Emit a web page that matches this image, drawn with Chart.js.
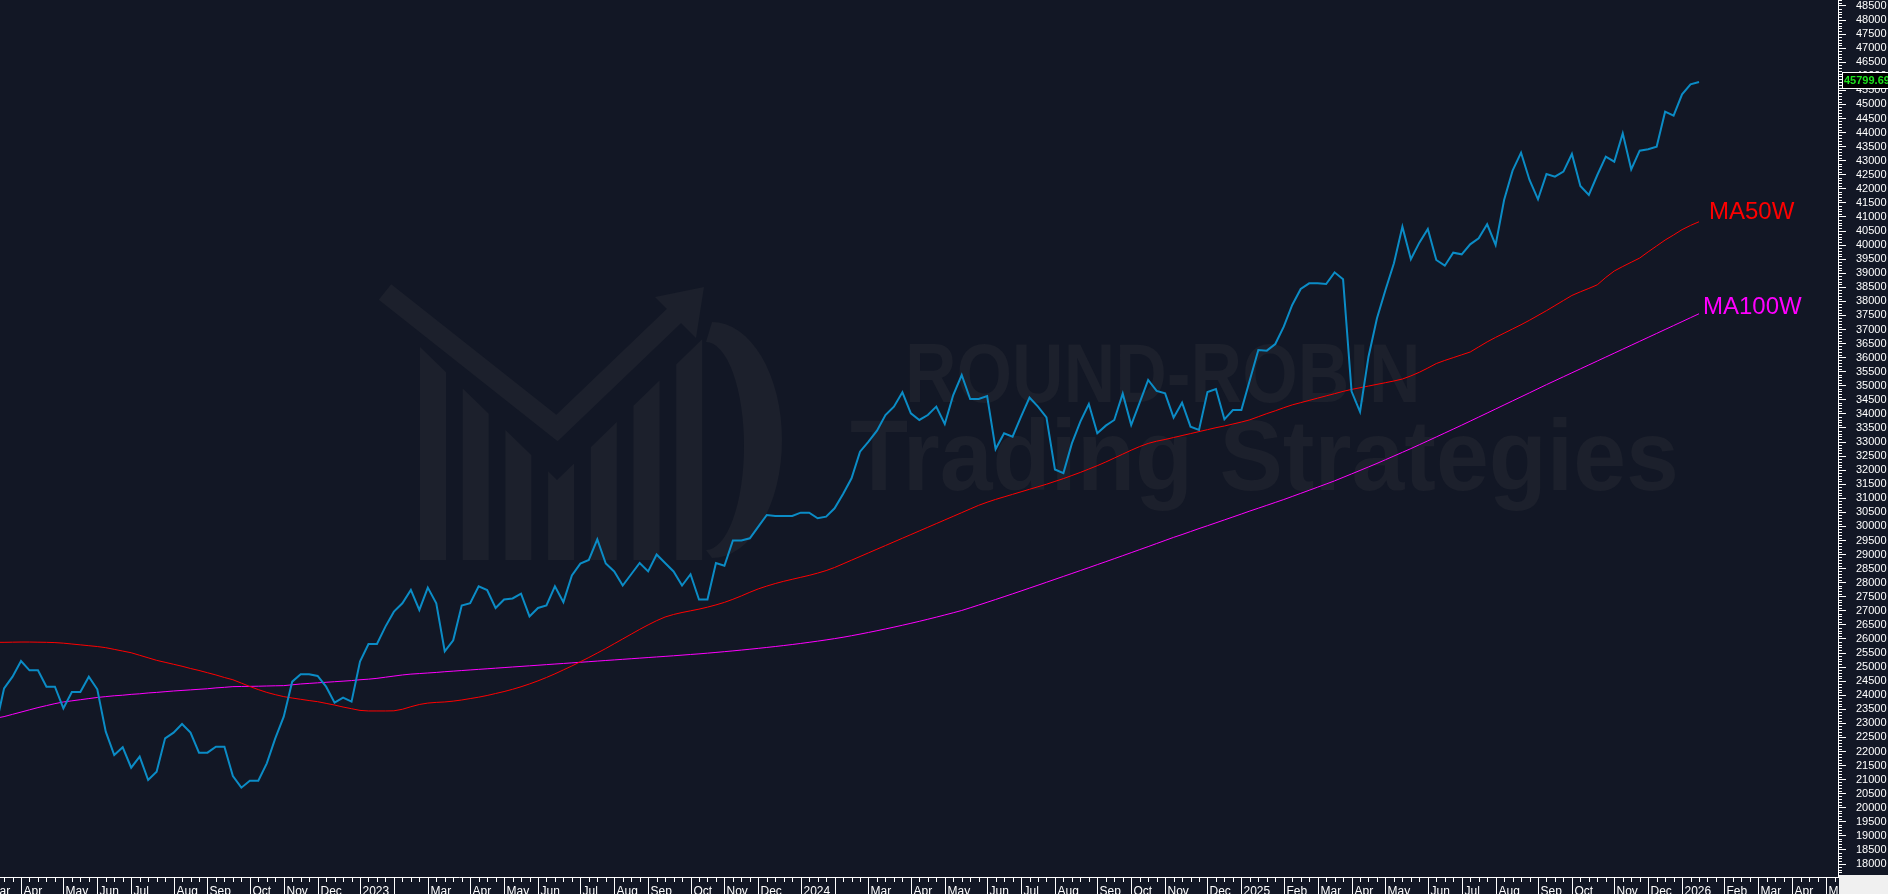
<!DOCTYPE html>
<html>
<head>
<meta charset="utf-8">
<script src="https://cdn.jsdelivr.net/npm/chart.js@4.4.1/dist/chart.umd.min.js"></script>
<style>
  html, body { margin: 0; padding: 0; background: #121725; }
  #wrap { width: 1888px; height: 894px; }
</style>
</head>
<body>
<div id="wrap"><canvas id="chart" width="1888" height="894"></canvas></div>
<script>
// --- DATA ---
// weekly closes, one value per Friday, first week = 2022-03-11
const START_DATE = Date.UTC(2022, 2, 11);
const MONTH_NAMES = ['Jan', 'Feb', 'Mar', 'Apr', 'May', 'Jun', 'Jul', 'Aug', 'Sep', 'Oct', 'Nov', 'Dec'];

const priceClose = [
    22860, 24245, 24660, 25217, 24885, 24885, 24305, 24305, 23535, 24115,
    24115, 24660, 24210, 22705, 21875, 22148, 21425, 21816, 20986, 21283,
    22468, 22669, 22977, 22669, 21958, 21958, 22171, 22171, 21129, 20714,
    20963, 20963, 21579, 22468, 23238, 24482, 24743, 24743, 24683, 24304,
    23735, 23913, 23771, 25193, 25821, 25821, 26438, 26971, 27267, 27741,
    27030, 27824, 27267, 25560, 25950, 27190, 27270, 27870, 27740, 27100,
    27400, 27440, 27610, 26800, 27100, 27190, 27870, 27310, 28260, 28680,
    28810, 29540, 28680, 28400, 27900, 28300, 28700, 28400, 29000, 28700,
    28400, 27900, 28300, 27400, 27400, 28700, 28600, 29500, 29500, 29578,
    29992, 30407, 30371, 30371, 30371, 30490, 30490, 30289, 30348, 30644,
    31153, 31710, 32658, 33014, 33404, 33961, 34258, 34767, 34021, 33784,
    33961, 34258, 33642, 34672, 35383, 34530, 34530, 34637, 32750, 33310,
    33191, 33902, 34578, 34258, 33879, 32022, 31894, 32950, 33725, 34353,
    33310, 33582, 33784, 34720, 33606, 34400, 35206, 34815, 34732, 33867,
    34400, 33547, 33428, 34779, 34886, 33808, 34139, 34139, 35206, 36272,
    36248, 36485, 37101, 37872, 38440, 38641, 38641, 38617, 39032, 38783,
    34804, 34076, 36034, 37397, 38404, 39352, 40656, 39495, 40087, 40573,
    39471, 39269, 39731, 39672, 40028, 40241, 40739, 40004, 41603, 42646,
    43286, 42314, 41627, 42528, 42433, 42611, 43239, 42101, 41781, 42492,
    43144, 42966, 43973, 42694, 43357, 43405, 43499, 44743, 44601, 45360,
    45715, 45799.69
];

const ma50w = [
    25880, 25880, 25885, 25890, 25890, 25885, 25880, 25870, 25850, 25820,
    25790, 25760, 25730, 25690, 25630, 25570, 25510, 25420, 25330, 25240,
    25170, 25100, 25030, 24950, 24880, 24800, 24720, 24630, 24550, 24430,
    24310, 24200, 24100, 24020, 23950, 23900, 23855, 23810, 23770, 23710,
    23650, 23580, 23520, 23460, 23440, 23440, 23440, 23445, 23500, 23590,
    23670, 23720, 23745, 23760, 23790, 23830, 23880, 23930, 23990, 24060,
    24130, 24210, 24300, 24400, 24510, 24630, 24760, 24900, 25040, 25190,
    25340, 25500, 25660, 25830, 26000, 26170, 26340, 26500, 26650, 26780,
    26870, 26940, 27000, 27060, 27130, 27210, 27300, 27410, 27530, 27660,
    27780, 27880, 27970, 28050, 28120, 28190, 28260, 28340, 28430, 28540,
    28670, 28800, 28930, 29060, 29190, 29320, 29450, 29580, 29710, 29840,
    29970, 30100, 30230, 30360, 30490, 30620, 30750, 30860, 30960, 31050,
    31140, 31230, 31320, 31410, 31500, 31600, 31700, 31810, 31920, 32040,
    32160, 32290, 32430, 32570, 32710, 32840, 32950, 33030, 33090, 33160,
    33230, 33300, 33370, 33440, 33510, 33570, 33640, 33710, 33790, 33900,
    34010, 34110, 34220, 34320, 34400, 34480, 34560, 34640, 34720, 34800,
    34870, 34930, 34990, 35050, 35110, 35170, 35240, 35350, 35480, 35630,
    35790, 35900, 36000, 36100, 36200, 36380, 36560, 36720, 36870, 37020,
    37170, 37330, 37500, 37670, 37850, 38030, 38210, 38340, 38460, 38590,
    38850, 39080, 39240, 39390, 39540, 39760, 39970, 40180, 40360, 40550,
    40700, 40830
];

const ma100w = [
    23180, 23240, 23320, 23400, 23480, 23560, 23630, 23700, 23760, 23800,
    23840, 23880, 23920, 23950, 23980, 24000, 24030, 24050, 24080, 24100,
    24125, 24150, 24170, 24190, 24210, 24230, 24260, 24280, 24305, 24310,
    24315, 24320, 24328, 24335, 24340, 24370, 24400, 24420, 24440, 24460,
    24480, 24500, 24520, 24550, 24570, 24600, 24640, 24680, 24720, 24750,
    24770, 24790, 24810, 24835, 24856, 24877, 24898, 24919, 24940, 24961,
    24982, 25003, 25024, 25045, 25066, 25087, 25108, 25129, 25150, 25171,
    25192, 25213, 25234, 25255, 25276, 25297, 25318, 25339, 25360, 25381,
    25402, 25425, 25448, 25470, 25495, 25521, 25548, 25576, 25605, 25635,
    25666, 25698, 25731, 25766, 25802, 25840, 25880, 25922, 25966, 26012,
    26060, 26115, 26172, 26231, 26292, 26355, 26420, 26487, 26556, 26627,
    26700, 26775, 26852, 26931, 27012, 27108, 27205, 27303, 27402, 27502,
    27603, 27705, 27808, 27911, 28015, 28119, 28223, 28327, 28431, 28536,
    28641, 28747, 28853, 28960, 29067, 29175, 29283, 29392, 29501, 29611,
    29711, 29817, 29923, 30025, 30128, 30232, 30336, 30441, 30547, 30648,
    30750, 30853, 30956, 31065, 31175, 31285, 31396, 31508, 31620, 31743,
    31866, 31990, 32115, 32240, 32371, 32502, 32634, 32766, 32904, 33042,
    33181, 33320, 33460, 33600, 33743, 33886, 34030, 34174, 34319, 34462,
    34606, 34750, 34895, 35040, 35180, 35320, 35460, 35600, 35740, 35880,
    36020, 36160, 36300, 36440, 36580, 36720, 36860, 37000, 37140, 37280,
    37420, 37560
];

const SERIES_LABELS = ['MA50W', 'MA100W'];
const WATERMARK_LINES = ['ROUND-ROBIN', 'Trading Strategies'];

// visible window (week index) and price range
const X_MIN = 0.52, X_MAX = 217.4;
const Y_MIN = 17538, Y_MAX = 48713;
const Y_TICK_FIRST = 18000, Y_TICK_LAST = 48500, Y_STEP = 500, Y_MINOR = 100;

// --- COLOURS ---
const BG = '#121725';
const WM = '#1c202c';
const AXIS = '#ffffff';
const FONT = "'Liberation Sans', Arial, sans-serif";

function weekDate(j) {
    return new Date(START_DATE + j * 7 * 86400000);
}

function toPoints(arr) {
    return arr.map((v, j) => ({ x: j, y: v }));
}

// --- PLUGINS ---
const backgroundPlugin = {
    id: 'background',
    beforeDraw(chart) {
        const { ctx, width, height } = chart;
        ctx.save();
        ctx.fillStyle = BG;
        ctx.fillRect(0, 0, width, height);
        ctx.restore();
    }
};

const watermarkPlugin = {
    id: 'watermark',
    beforeDatasetsDraw(chart) {
        const { ctx } = chart;
        ctx.save();
        ctx.fillStyle = WM;
        ctx.strokeStyle = WM;

        // logo bars, tops cut along the V
        const vx = 557, vy = 480, slope = 0.97;
        for (let k = 0; k < 7; k++) {
            const bx = 420 + k * 42.7, w = 26;
            ctx.beginPath();
            const t1 = vy - Math.abs(bx - vx) * slope;
            const t2 = vy - Math.abs(bx + w - vx) * slope;
            ctx.moveTo(bx, 560);
            ctx.lineTo(bx, t1);
            if (bx < vx && bx + w > vx) ctx.lineTo(vx, vy);
            ctx.lineTo(bx + w, t2);
            ctx.lineTo(bx + w, 560);
            ctx.closePath();
            ctx.fill();
        }
        // V band with arrow
        ctx.lineWidth = 20;
        ctx.lineJoin = 'miter';
        ctx.beginPath();
        ctx.moveTo(385, 292);
        ctx.lineTo(557, 428);
        ctx.lineTo(676, 314);
        ctx.stroke();
        ctx.beginPath();
        ctx.moveTo(704, 287);
        ctx.lineTo(655, 297);
        ctx.lineTo(696, 338);
        ctx.closePath();
        ctx.fill();
        // crescent
        ctx.beginPath();
        ctx.ellipse(712, 440, 70, 118, 0, -Math.PI / 2, Math.PI / 2);
        ctx.ellipse(706, 446, 38, 104, 0, Math.PI / 2, -Math.PI / 2, true);
        ctx.fill();

        ctx.textBaseline = 'alphabetic';
        ctx.font = `bold 84px ${FONT}`;
        ctx.save();
        ctx.translate(905, 402);
        ctx.scale(0.85, 1);
        ctx.fillText(WATERMARK_LINES[0], 0, 0);
        ctx.restore();
        ctx.font = `bold 100px ${FONT}`;
        ctx.save();
        ctx.translate(850, 490);
        ctx.scale(0.95, 1);
        ctx.fillText(WATERMARK_LINES[1], 0, 0);
        ctx.restore();
        ctx.restore();
    }
};

const axesPlugin = {
    id: 'axesDecor',
    afterDraw(chart) {
        const { ctx, chartArea, scales: { x, y }, width, height } = chart;
        ctx.save();
        ctx.strokeStyle = AXIS;
        ctx.lineWidth = 1;

        // minor ticks on price axis
        ctx.beginPath();
        for (let v = Math.ceil(Y_MIN / Y_MINOR) * Y_MINOR; v <= Y_MAX; v += Y_MINOR) {
            if (v % Y_STEP === 0) continue;
            const py = Math.round(y.getPixelForValue(v)) + 0.5;
            ctx.moveTo(chartArea.right, py);
            ctx.lineTo(chartArea.right + 4, py);
        }
        ctx.stroke();

        // time axis strip
        const top = chartArea.bottom;
        ctx.fillStyle = BG;
        ctx.fillRect(0, top, chartArea.right, height - top);
        ctx.beginPath();
        ctx.moveTo(0, top + 0.5);
        ctx.lineTo(chartArea.right, top + 0.5);
        ctx.stroke();

        ctx.font = `12px ${FONT}`;
        ctx.fillStyle = AXIS;
        ctx.textAlign = 'left';
        ctx.textBaseline = 'alphabetic';
        let lastEnd = -Infinity;
        for (let j = Math.floor(X_MIN) - 6; j <= Math.ceil(X_MAX) + 1; j++) {
            const px = Math.round(x.getPixelForValue(j)) + 0.5;
            if (px > chartArea.right) break;
            const d = weekDate(j);
            const m = d.getUTCMonth();
            const newMonth = weekDate(j - 1).getUTCMonth() !== m;
            ctx.beginPath();
            ctx.moveTo(px, top);
            ctx.lineTo(px, newMonth ? height : top + 5);
            ctx.stroke();
            if (newMonth) {
                const label = m === 0 ? String(d.getUTCFullYear()) : MONTH_NAMES[m];
                if (px > lastEnd + 6) {
                    ctx.fillText(label, px + 2, height + 1);
                    lastEnd = px + 2 + ctx.measureText(label).width;
                }
            }
        }

        // corner box
        ctx.fillStyle = '#f0f0f0';
        ctx.fillRect(chartArea.right + 1, top - 2, width - chartArea.right, height - top + 2);

        // last price box
        const last = priceClose[priceClose.length - 1];
        const ly = Math.round(y.getPixelForValue(last));
        ctx.fillStyle = '#000000';
        ctx.fillRect(chartArea.right + 4, ly - 10, 60, 17);
        ctx.strokeRect(chartArea.right + 4.5, ly - 9.5, 60, 16);
        ctx.fillStyle = '#1ee21e';
        ctx.font = `bold 11px ${FONT}`;
        ctx.textBaseline = 'middle';
        ctx.fillText(last.toFixed(2), chartArea.right + 6, ly - 1);
        ctx.restore();
    }
};

const seriesLabelPlugin = {
    id: 'seriesLabels',
    afterDatasetsDraw(chart) {
        const { ctx, scales: { x, y } } = chart;
        const n = priceClose.length - 1;
        ctx.save();
        ctx.font = `24px ${FONT}`;
        ctx.textBaseline = 'middle';
        ctx.fillStyle = '#ff0000';
        ctx.fillText(SERIES_LABELS[0], x.getPixelForValue(n) + 10, y.getPixelForValue(ma50w[n]) - 9);
        ctx.fillStyle = '#ff00ff';
        ctx.fillText(SERIES_LABELS[1], x.getPixelForValue(n) + 4, y.getPixelForValue(ma100w[n]) - 6);
        ctx.restore();
    }
};

// --- CHART ---
new Chart(document.getElementById('chart').getContext('2d'), {
    type: 'line',
    data: {
        datasets: [
            { label: 'Close', data: toPoints(priceClose), borderColor: '#0b8cc6', borderWidth: 2, pointRadius: 0, tension: 0 },
            { label: SERIES_LABELS[0], data: toPoints(ma50w), borderColor: '#ff0000', borderWidth: 1, pointRadius: 0, tension: 0 },
            { label: SERIES_LABELS[1], data: toPoints(ma100w), borderColor: '#ff00ff', borderWidth: 1, pointRadius: 0, tension: 0 }
        ]
    },
    options: {
        responsive: false,
        devicePixelRatio: 1,
        animation: false,
        layout: { padding: { left: 0, right: 0, top: 0, bottom: 17 } },
        plugins: { legend: { display: false }, tooltip: { enabled: false } },
        scales: {
            x: { type: 'linear', min: X_MIN, max: X_MAX, display: false },
            y: {
                type: 'linear',
                position: 'right',
                min: Y_MIN,
                max: Y_MAX,
                afterBuildTicks(scale) {
                    const ticks = [];
                    for (let v = Y_TICK_FIRST; v <= Y_TICK_LAST; v += Y_STEP) ticks.push({ value: v });
                    scale.ticks = ticks;
                },
                afterFit(scale) {
                    scale.width = 50;
                    scale.paddingTop = 0;
                    scale.paddingBottom = 0;
                },
                ticks: {
                    autoSkip: false,
                    color: AXIS,
                    padding: 10,
                    font: { family: FONT, size: 11 },
                    callback: v => String(v)
                },
                grid: { drawOnChartArea: false, drawTicks: true, tickLength: 8, color: AXIS },
                border: { display: true, color: AXIS, width: 1 }
            }
        }
    },
    plugins: [backgroundPlugin, watermarkPlugin, axesPlugin, seriesLabelPlugin]
});
</script>
</body>
</html>
